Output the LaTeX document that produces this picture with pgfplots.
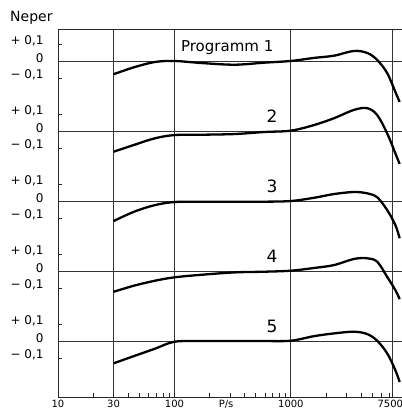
\documentclass[border=0pt]{standalone}
\usepackage{pgfplots}
\usepackage{pgfplotstable}
\pgfplotsset{compat=1.18}
\usepackage{fontspec}
\setmainfont{DejaVu Sans}

\pgfplotstableread{
f      p1      p2      p3      p4      p5
30    -0.078  -0.122  -0.118  -0.122  -0.131
45    -0.037  -0.082  -0.063  -0.086  -0.088
68    -0.006  -0.043  -0.024  -0.057  -0.045
100    0.000  -0.024  -0.006  -0.037  -0.004
170   -0.012  -0.022  -0.004  -0.022   0.000
328   -0.022  -0.018  -0.004  -0.008   0.000
590   -0.010  -0.006  -0.004  -0.004   0.000
1000   0.000   0.002   0.000   0.002   0.002
1582   0.018   0.035   0.019   0.018   0.029
2345   0.031   0.075   0.041   0.035   0.045
3477   0.059   0.124   0.053   0.071   0.055
4527   0.047   0.134   0.045   0.075   0.041
5507   0.006   0.094   0.022   0.055   0.002
6710  -0.071  -0.014  -0.053  -0.034  -0.072
7890  -0.182  -0.131  -0.141  -0.112  -0.171
8590  -0.241  -0.194  -0.219  -0.165  -0.241
}\resp

\begin{document}
\begin{tikzpicture}
\begin{axis}[
  scale only axis, width=344pt, height=368pt,
  xmode=log, xmin=10, xmax=9000,
  ymin=-1.976, ymax=0.188,
  clip=false,
  axis x line=box, axis y line=left,
  axis line style={-, line width=0.9pt, black!85},
  xtick={10,30,100,1000,7500},
  xticklabels={10,30,100,1000,\kern-5pt7500},
  minor xtick={20,40,50,60,70,80,90,200,300,400,500,600,700,800,900,2000,3000,4000,5000,6000,7000},
  xtick pos=left,
  xmajorgrids,
  major grid style={line width=0.8pt, black!80},
  tick align=inside,
  major tick length=4pt, minor tick length=4pt,
  tick style={line width=0.8pt, black!85},
  xticklabel style={font=\fontsize{10}{12}\selectfont},
  ytick={-1.74706,-1.64706,-1.54706,-1.33529,-1.23529,-1.13529,-0.92353,-0.82353,-0.72353,-0.51176,-0.41176,-0.31176,-0.1,0,0.1},
  yticklabels={{−\ 0,1},0,{+\ 0,1},{−\ 0,1},0,{+\ 0,1},{−\ 0,1},0,{+\ 0,1},{−\ 0,1},0,{+\ 0,1},{−\ 0,1},0,{+\ 0,1}},
  yticklabel style={font=\fontsize{12}{14}\selectfont, xshift=-11pt, yshift=3pt},
  extra y ticks={0,-0.41176,-0.82353,-1.23529,-1.64706},
  extra y tick labels={},
  extra y tick style={ymajorgrids=true, major tick length=0pt},
  extra x ticks={278},
  extra x tick labels={P/s},
  extra x tick style={major tick length=0pt, xmajorgrids=false},
]
\addplot[black, line width=2.3pt, smooth, tension=0.55] table[x=f, y=p1] {\resp};
\addplot[black, line width=2.3pt, smooth, tension=0.55] table[x=f, y expr=\thisrow{p2}-0.41176] {\resp};
\addplot[black, line width=2.3pt, smooth, tension=0.55] table[x=f, y expr=\thisrow{p3}-0.82353] {\resp};
\addplot[black, line width=2.3pt, smooth, tension=0.55] table[x=f, y expr=\thisrow{p4}-1.23529] {\resp};
\addplot[black, line width=2.3pt, smooth, tension=0.55] table[x=f, y expr=\thisrow{p5}-1.64706] {\resp};

\node[anchor=base, inner sep=0, font=\fontsize{15}{17}\selectfont] at (axis cs:284,0.055) {Programm 1};
\node[anchor=base, inner sep=0, font=\fontsize{17}{19}\selectfont] at (axis cs:689,-0.41176+0.049) {2};
\node[anchor=base, inner sep=0, font=\fontsize{17}{19}\selectfont] at (axis cs:689,-0.82353+0.049) {3};
\node[anchor=base, inner sep=0, font=\fontsize{17}{19}\selectfont] at (axis cs:689,-1.23529+0.049) {4};
\node[anchor=base, inner sep=0, font=\fontsize{17}{19}\selectfont] at (axis cs:689,-1.64706+0.049) {5};
\node[anchor=base west, inner sep=0, font=\fontsize{14}{16}\selectfont] at ([xshift=-48pt,yshift=7pt]rel axis cs:0,1) {Neper};
\end{axis}
\pgfresetboundingbox
\path[use as bounding box] ([xshift=-58pt,yshift=-17pt]current axis.south west) rectangle ([yshift=29pt]current axis.north east);
\end{tikzpicture}
\end{document}
